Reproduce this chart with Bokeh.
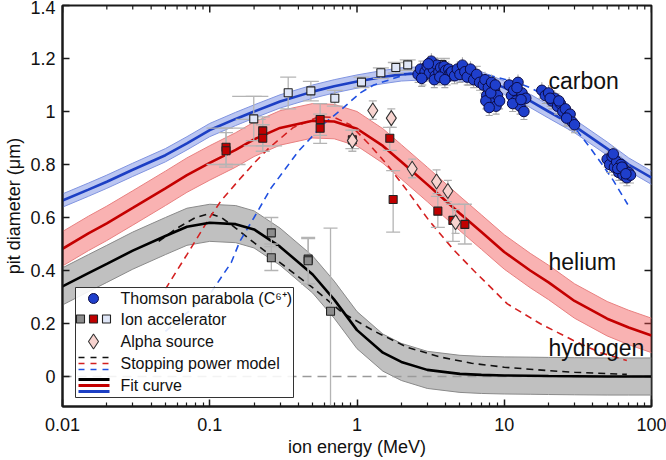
from bokeh.plotting import figure
from bokeh.models import FixedTicker, CustomJSTickFormatter, Range1d
from bokeh.core.properties import value
from bokeh.embed import file_html
from bokeh.resources import INLINE

# ---------------- data ----------------
FIT_E = [0.01, 0.015, 0.02, 0.03, 0.05, 0.07, 0.1, 0.15, 0.2, 0.3, 0.5, 0.7, 1.0,
         1.5, 2.0, 3.0, 5.0, 7.0, 10, 15, 20, 30, 50, 70, 100]
carbon_fit = [0.664, 0.705, 0.735, 0.78, 0.835, 0.88, 0.93, 0.972, 1.0, 1.038, 1.075,
              1.095, 1.113, 1.13, 1.14, 1.145, 1.14, 1.125, 1.09, 1.04, 1.0, 0.945,
              0.86, 0.80, 0.75]
helium_fit = [0.482, 0.54, 0.578, 0.636, 0.71, 0.76, 0.806, 0.855, 0.895, 0.938, 0.965,
              0.962, 0.935, 0.87, 0.81, 0.725, 0.615, 0.545, 0.47, 0.40, 0.355, 0.285,
              0.218, 0.185, 0.155]
hydrogen_fit = [0.34, 0.39, 0.425, 0.475, 0.53, 0.565, 0.58, 0.575, 0.555, 0.49, 0.385,
                0.29, 0.175, 0.09, 0.055, 0.025, 0.01, 0.006, 0.004, 0.003, 0.002,
                0.001, 0.0, 0.0, 0.0]
carbon_band = 0.025
helium_band = 0.065
hydrogen_band = 0.07

carbon_model_E = [0.05, 0.07, 0.1, 0.14, 0.16, 0.2, 0.26, 0.4, 0.6, 0.77, 1.05, 1.3, 2.2,
                  3.5, 5, 8, 12, 15, 18, 24, 30, 38, 46, 55, 69]
carbon_model = [0.17, 0.24, 0.31, 0.43, 0.51, 0.6, 0.71, 0.85, 0.955, 1.004, 1.07, 1.1,
                1.142, 1.155, 1.152, 1.136, 1.11, 1.09, 1.067, 1.01, 0.94, 0.866, 0.802,
                0.74, 0.649]
helium_model_E = [0.05, 0.07, 0.1, 0.12, 0.16, 0.2, 0.25, 0.37, 0.55, 0.7, 0.9, 1.23, 1.6,
                  2.2, 3.07, 4.5, 6.2, 10.5, 17.6, 29.5, 45, 68]
helium_model = [0.33, 0.46, 0.6, 0.665, 0.745, 0.805, 0.86, 0.94, 0.98, 0.978, 0.95, 0.872,
                0.80, 0.70, 0.59, 0.48, 0.40, 0.274, 0.199, 0.136, 0.09, 0.06]
hydrogen_model_E = [0.045, 0.06, 0.08, 0.1, 0.12, 0.15, 0.2, 0.3, 0.5, 0.8, 1.3, 2.2, 3.7,
                    6, 10, 20, 30, 68]
hydrogen_model = [0.51, 0.56, 0.6, 0.615, 0.6, 0.56, 0.505, 0.43, 0.335, 0.24, 0.172, 0.11,
                  0.073, 0.05, 0.035, 0.022, 0.016, 0.008]

# Thomson parabola (C6+)
tp_E = [2.6, 2.7, 2.8, 2.9, 3.0, 3.1, 3.2, 3.3, 3.4, 3.5, 3.6, 3.7, 3.8, 3.9, 4.0, 4.1,
        4.2, 4.3, 4.4, 4.6, 2.75, 3.05, 3.35, 3.65, 3.95,
        4.8, 5.0, 5.2, 5.4, 5.6, 5.9, 6.2, 6.5, 6.8,
        7.2, 7.4, 7.6, 7.8, 8.0, 8.2, 8.4, 8.6, 8.8, 9.0, 7.5, 8.1, 8.7, 9.3, 7.9,
        10.8, 11.2, 11.6, 12.0, 12.4, 12.8, 13.2, 13.6, 14.0, 11.4, 12.2, 13.0,
        18, 19, 20, 21, 22, 23, 24, 25, 26, 27, 28, 29, 30, 20.5, 23.5, 26.5,
        50, 52, 54, 56, 58, 60, 62, 64, 66, 68, 70, 72, 55, 59, 63, 67]
tp_d = [1.14, 1.16, 1.13, 1.15, 1.17, 1.145, 1.19, 1.16, 1.135, 1.175, 1.15, 1.165, 1.14,
        1.17, 1.155, 1.13, 1.16, 1.145, 1.15, 1.135, 1.125, 1.18, 1.12, 1.13, 1.12,
        1.16, 1.14, 1.175, 1.15, 1.13, 1.16, 1.12, 1.14, 1.11,
        1.10, 1.12, 1.06, 1.09, 1.03, 1.11, 1.05, 1.08, 1.02, 1.06, 1.04, 1.07, 1.10, 1.04,
        1.015,
        1.10, 1.06, 1.08, 1.04, 1.11, 1.02, 1.07, 1.0, 1.05, 1.03, 1.09, 1.045,
        1.08, 1.06, 1.07, 1.04, 1.05, 1.02, 1.03, 1.0, 1.01, 0.98, 0.99, 0.96, 0.95, 1.05,
        1.04, 0.975,
        0.82, 0.80, 0.83, 0.79, 0.81, 0.77, 0.80, 0.76, 0.78, 0.75, 0.77, 0.76, 0.84, 0.785,
        0.79, 0.765]
tp_err = 0.03

# Ion accelerator
accH_E = [0.262, 0.262, 0.466, 0.466, 0.661]
accH_d = [0.542, 0.448, 0.443, 0.437, 0.246]
accH_lo = [0.49, 0.40, 0.35, 0.35, -0.12]
accH_hi = [0.60, 0.50, 0.525, 0.52, 0.56]

accHe_E = [0.129, 0.129, 0.229, 0.229, 0.562, 0.562, 0.93, 1.67, 1.76, 3.54, 4.48, 5.4]
accHe_d = [0.865, 0.852, 0.927, 0.899, 0.97, 0.937, 0.893, 0.899, 0.668, 0.624, 0.589, 0.574]
accHe_lo = [0.80, 0.79, 0.87, 0.85, 0.91, 0.88, 0.86, 0.853, 0.545, 0.563, 0.51, 0.50]
accHe_hi = [0.937, 0.92, 0.98, 0.95, 1.03, 0.99, 0.93, 0.94, 0.777, 0.68, 0.65, 0.65]

accC_E = [0.199, 0.341, 0.486, 0.707, 1.073, 1.452, 1.835, 2.21, 2.96, 3.77, 6.11]
accC_d = [0.972, 1.071, 1.078, 1.05, 1.111, 1.146, 1.166, 1.176, 1.167, 1.177, 1.136]
accC_lo = [0.89, 1.01, 1.04, 1.02, 1.09, 1.125, 1.145, 1.155, 1.145, 1.155, 1.10]
accC_hi = [1.057, 1.13, 1.114, 1.08, 1.13, 1.165, 1.185, 1.195, 1.19, 1.20, 1.17]

# horizontal (energy) error bars of the low-energy accelerator points
accX_E = [0.129, 0.129, 0.229, 0.199, 0.199]
accX_d = [0.937, 0.80, 0.87, 1.057, 0.97]
accX_lo = [0.095, 0.095, 0.17, 0.142, 0.15]
accX_hi = [0.175, 0.175, 0.31, 0.25, 0.24]

# Alpha source
alpha_E = [0.93, 1.28, 1.71, 2.37, 3.47, 4.14, 4.67]
alpha_d = [0.89, 1.004, 0.975, 0.784, 0.736, 0.70, 0.582]
alpha_lo = [0.85, 0.97, 0.94, 0.75, 0.69, 0.66, 0.54]
alpha_hi = [0.93, 1.04, 1.01, 0.82, 0.78, 0.74, 0.63]

x_ticks = [0.01, 0.1, 1, 10, 100]
x_minor = [m * 10.0 ** k for k in range(-2, 2) for m in range(2, 10)]
y_ticks = [0, 0.2, 0.4, 0.6, 0.8, 1.0, 1.2, 1.4]

series_names = ["carbon", "helium", "hydrogen"]
legend_labels = ["Thomson parabola (C\u2076\u207a)", "Ion accelerator", "Alpha source",
                 "Stopping power model", "Fit curve"]

# ---------------- styling ----------------
FONT = "Liberation Sans"
BLUE = "#1c3fc4"
RED = "#c40000"
BLACK = "#000000"
ERR = "#b4b4b4"
AX = "#1a1a1a"

X0, X1 = 0.01, 100
Y0, Y1 = -0.1132, 1.4
PX_DEC = 147.25      # pixels per decade on x
PX_UNIT = 265.0      # pixels per unit on y


# reference-pixel -> data helpers (for annotations positioned like the reference)
def ex(px):
    return 10 ** (-2 + (px - 62) / PX_DEC)


def vy(py):
    return (376 - py) / PX_UNIT


p = figure(width=666, height=460, frame_width=589, frame_height=401, x_axis_type="log",
           x_range=Range1d(X0, X1), y_range=Range1d(Y0, Y1),
           output_backend="svg", toolbar_location=None,
           min_border_left=62, min_border_right=15, min_border_top=5, min_border_bottom=54)
p.xgrid.visible = False
p.ygrid.visible = False
p.outline_line_color = AX
p.outline_line_width = 2
p.background_fill_color = "white"
p.border_fill_color = "white"

xt = FixedTicker(ticks=x_ticks, minor_ticks=x_minor)
yt = FixedTicker(ticks=y_ticks, minor_ticks=[])
fmt = CustomJSTickFormatter(code="return (Math.round(tick*1000)/1000).toString();")


def style_axis(ax):
    ax.axis_line_color = AX
    ax.axis_line_width = 2
    ax.major_tick_in = 7
    ax.major_tick_out = 0
    ax.minor_tick_in = 4
    ax.minor_tick_out = 0
    ax.major_tick_line_color = AX
    ax.minor_tick_line_color = AX
    ax.major_tick_line_width = 1.5
    ax.minor_tick_line_width = 1.2
    ax.major_label_text_font = FONT
    ax.major_label_text_font_size = "18px"
    ax.major_label_text_color = "#111111"
    ax.axis_label_text_font = FONT
    ax.axis_label_text_font_size = "18px"
    ax.axis_label_text_font_style = "normal"
    ax.axis_label_text_color = "#111111"


xa = p.xaxis[0]
xa.ticker = xt
xa.formatter = fmt
style_axis(xa)
xa.major_label_standoff = 11
xa.axis_label = "ion energy (MeV)"
xa.axis_label_standoff = 3

ya = p.yaxis[0]
ya.ticker = yt
ya.formatter = fmt
style_axis(ya)
ya.major_label_standoff = 7
ya.axis_label = "pit diameter (\u03bcm)"
ya.axis_label_standoff = 3

# mirrored inward ticks on the top and right edges of the box
top_len_major = 7 / PX_UNIT
top_len_minor = 4 / PX_UNIT
p.segment(x0=x_ticks, y0=[Y1] * len(x_ticks), x1=x_ticks,
          y1=[Y1 - top_len_major] * len(x_ticks), line_color=AX, line_width=1.5)
p.segment(x0=x_minor, y0=[Y1] * len(x_minor), x1=x_minor,
          y1=[Y1 - top_len_minor] * len(x_minor), line_color=AX, line_width=1.2)
right_in = X1 / 10 ** (7 / PX_DEC)
p.segment(x0=[X1] * len(y_ticks), y0=y_ticks, x1=[right_in] * len(y_ticks), y1=y_ticks,
          line_color=AX, line_width=1.5)

# ---------------- bands ----------------
bands = [
    (carbon_fit, carbon_band, "#3d5bd6", 0.35, "#8094e0"),
    (helium_fit, helium_band, "#f04848", 0.42, "#e88080"),
    (hydrogen_fit, hydrogen_band, "#9a9a9a", 0.62, "#8a8a8a"),
]
for fit, bw, fc, fa, ec in bands:
    lo = [v - bw for v in fit]
    hi = [v + bw for v in fit]
    p.varea(x=FIT_E, y1=lo, y2=hi, fill_color=fc, fill_alpha=fa)
    p.line(FIT_E, lo, line_color=ec, line_width=1)
    p.line(FIT_E, hi, line_color=ec, line_width=1)

# zero line
p.line(x_ticks, [0] * len(x_ticks), line_color="#9a9a9a", line_width=1.4, line_dash="9 6")

# stopping power models
p.line(hydrogen_model_E, hydrogen_model, line_color="#111111", line_width=1.6, line_dash="7 5")
p.line(helium_model_E, helium_model, line_color="#d42020", line_width=1.6, line_dash="7 5")
p.line(carbon_model_E, carbon_model, line_color="#2050e0", line_width=1.6, line_dash="7 5")

# fit curves
p.line(FIT_E, hydrogen_fit, line_color=BLACK, line_width=2.6)
p.line(FIT_E, helium_fit, line_color=RED, line_width=2.6)
p.line(FIT_E, carbon_fit, line_color=BLUE, line_width=2.6)


# ---------------- error bars ----------------
def vbars(E, lo, hi, cap):
    p.segment(x0=E, y0=lo, x1=E, y1=hi, line_color=ERR, line_width=1.3)
    p.scatter(E + E, lo + hi, marker="dash", size=cap, line_color=ERR, line_width=1.3)


vbars(accH_E, accH_lo, accH_hi, 14)
vbars(accHe_E, accHe_lo, accHe_hi, 14)
vbars(accC_E, accC_lo, accC_hi, 16)
vbars(alpha_E, alpha_lo, alpha_hi, 8)
p.segment(x0=accX_lo, y0=accX_d, x1=accX_hi, y1=accX_d, line_color=ERR, line_width=1.3)

tp_lo = [v - tp_err for v in tp_d]
tp_hi = [v + tp_err for v in tp_d]
p.segment(x0=tp_E, y0=tp_lo, x1=tp_E, y1=tp_hi, line_color="#a8a8a8", line_width=1.1)
p.scatter(tp_E, tp_lo, marker="dash", size=7, line_color="#a8a8a8", line_width=1.1)

# ---------------- markers ----------------
p.scatter(accH_E, accH_d, marker="square", size=8, fill_color="#8c8c8c",
          line_color="#222222", line_width=1.1)
p.scatter(accHe_E, accHe_d, marker="square", size=8, fill_color="#c00000",
          line_color="#222222", line_width=1.1)
p.scatter(alpha_E, alpha_d, marker="diamond", size=15, fill_color="#f7d3cf",
          line_color="#333333", line_width=1.1)
p.scatter(accC_E, accC_d, marker="square", size=8, fill_color="#dfe6f7",
          line_color="#222222", line_width=1.1)
p.scatter(tp_E, tp_d, marker="circle", size=10.5, fill_color="#1f3fcc",
          line_color="#0b0b45", line_width=1)

# ---------------- legend (drawn by hand) ----------------
p.quad(left=[ex(75)], right=[ex(293)], bottom=[vy(397)], top=[vy(287)],
       fill_color="white", fill_alpha=0.88, line_color="#333333", line_width=1)
row_y = [298, 318.5, 341, 363, 385]
p.scatter([ex(93)], [vy(row_y[0])], marker="circle", size=10, fill_color="#1f3fcc",
          line_color="#0b0b45")
p.scatter([ex(80), ex(93), ex(106)], [vy(row_y[1])] * 3, marker="square", size=8,
          fill_color=["#8c8c8c", "#c00000", "#dfe6f7"], line_color="#222222", line_width=1.1)
p.scatter([ex(93)], [vy(row_y[2])], marker="diamond", size=15, fill_color="#f7d3cf",
          line_color="#333333", line_width=1.1)
for dy, c in zip([-6, 0, 6], ["#111111", "#d42020", "#2050e0"]):
    p.line([ex(78), ex(109)], [vy(row_y[3] + dy)] * 2, line_color=c, line_width=1.6,
           line_dash="6 6")
for dy, c in zip([-6, 0, 6], [BLACK, RED, BLUE]):
    p.line([ex(78), ex(109)], [vy(row_y[4] + dy)] * 2, line_color=c, line_width=2.8)
p.text(x=[ex(120)] * 5, y=[vy(r) for r in row_y], text=legend_labels,
       text_font=value(FONT), text_font_size="16px", text_baseline="middle",
       text_color="#111111")

# series labels
p.text(x=[ex(548)] * 3, y=[vy(80), vy(261), vy(347)], text=series_names,
       text_font=value(FONT), text_font_size="23px", text_baseline="middle",
       text_color="#111111")

open("out.html", "w").write(file_html(p, INLINE))
